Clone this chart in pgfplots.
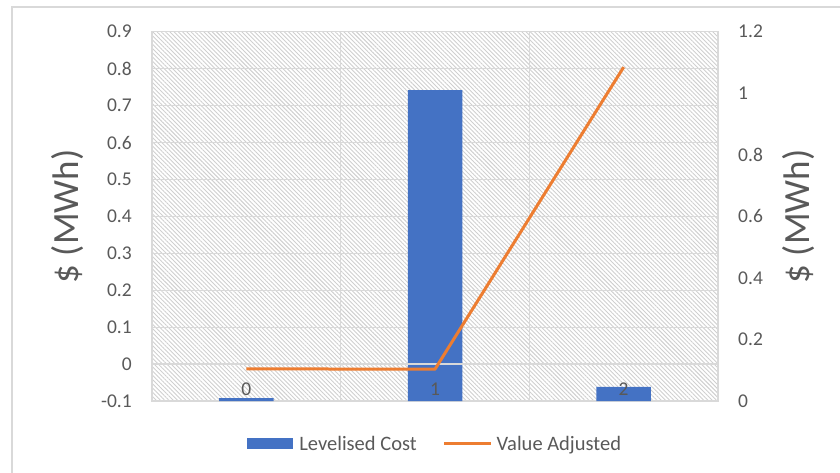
\documentclass[border=0pt]{standalone}
\usepackage{pgfplots}
\pgfplotsset{compat=1.18}
\usepackage{fontspec}
\setmainfont{Carlito}
\usetikzlibrary{patterns.meta}

\definecolor{barblue}{HTML}{4472C4}
\definecolor{lineorange}{HTML}{ED7D31}
\definecolor{txtgray}{HTML}{595959}
\definecolor{gridgray}{HTML}{D9D9D9}
\definecolor{hatchgray}{HTML}{CFCFCF}

\pgfplotsset{
  common/.style={
    scale only axis, width=566pt, height=369.5pt,
    at={(152pt,71.8pt)}, anchor=south west,
    xmin=-0.5, xmax=2.5, enlargelimits=false,
    tick style={draw=none},
    /pgf/number format/assume math mode=true,
    ticklabel style={font=\fontsize{19.5}{23}\selectfont, text=txtgray},
  },
}

\begin{document}
\begin{tikzpicture}[x=1pt,y=1pt]
\useasboundingbox (0,0) rectangle (840,473);
\draw[gridgray, line width=1.2pt] (12,-20) rectangle (900,466);

% bars: left axis, bars start at the bottom of the axis (-0.1)
\begin{axis}[common,
  ybar, bar width=54.5pt,
  y coord trafo/.code={\pgfmathparse{#1+0.1}},
  y coord inv trafo/.code={\pgfmathparse{#1-0.1}},
  ymin=-0.1, ymax=0.9,
  ytick={-0.1,0,0.1,0.2,0.3,0.4,0.5,0.6,0.7,0.8,0.9},
  yticklabels={-0.1,0,0.1,0.2,0.3,0.4,0.5,0.6,0.7,0.8,0.9},
  xtick={0,1,2}, xticklabels={},
  minor xtick={0.5,1.5},
  ymajorgrids, xminorgrids,
  major grid style={gridgray, line width=1.5pt},
  minor grid style={gridgray, line width=1.5pt},
  axis line style={gridgray, line width=1.5pt},
  axis background/.style={pattern={Lines[angle=-45,distance=3pt,line width=0.9pt]}, pattern color=hatchgray},
  yticklabel style={anchor=east, inner sep=0pt, xshift=-20pt},
  ylabel={\$ (MWh)},
  ylabel style={at={(axis description cs:-0.1484,0.5)}, anchor=center,
    font=\fontsize{37}{40}\selectfont, text=txtgray},
]
\addplot[fill=barblue, draw=none] coordinates {(0,-0.092) (1,0.742) (2,-0.061)};
\draw[gridgray, line width=1.5pt] (axis cs:-0.5,0) -- (axis cs:2.5,0);
\end{axis}

% line: right axis
\begin{axis}[common,
  ymin=0, ymax=1.2,
  ytick={0,0.2,0.4,0.6,0.8,1,1.2},
  yticklabel pos=right,
  axis line style={draw=none},
  xtick={0,1,2}, xticklabels={0,1,2},
  xticklabel style={anchor=base, yshift=5.2pt},
  yticklabel style={anchor=west, inner sep=0pt, xshift=20pt},
  ylabel={\$ (MWh)},
  ylabel style={at={(axis description cs:1.143,0.5)}, anchor=center,
    font=\fontsize{37}{40}\selectfont, text=txtgray},
  legend style={at={(axis description cs:0.5,-0.115)}, anchor=center,
    draw=none, fill=none, font=\fontsize{20.5}{24}\selectfont, text=txtgray,
    legend columns=2,
    /tikz/every even column/.append style={column sep=24pt}},
]
\addlegendimage{legend image code/.code={\fill[barblue] (0pt,-5pt) rectangle (45pt,5pt); \path (50pt,0pt);}}
\addlegendentry{Levelised Cost}
\addplot[lineorange, line width=3pt, line join=round,
  legend image code/.code={\draw[lineorange, line width=3pt] (0pt,0pt) -- (47pt,0pt); \path (49pt,0pt);}]
  coordinates {(0,0.105) (1,0.104) (2,1.085)};
\addlegendentry{Value Adjusted}
\end{axis}
\end{tikzpicture}
\end{document}
